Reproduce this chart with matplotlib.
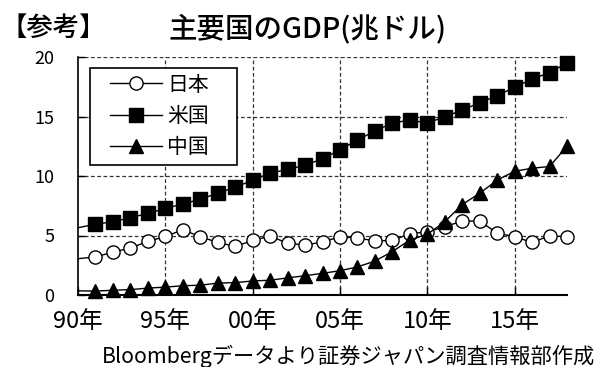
import matplotlib
matplotlib.use("Agg")
import matplotlib.pyplot as plt
from matplotlib.patches import Rectangle
import numpy as np

plt.rcParams['font.family'] = ['Noto Sans CJK JP', 'DejaVu Sans']

# category index 0..28 (label every 5)
tick_labels = ["90年", "95年", "00年", "05年", "10年", "15年"]
japan = [3.05, 3.2, 3.6, 3.95, 4.5, 4.92, 5.48, 4.9, 4.42, 4.08, 4.58, 4.95, 4.35, 4.2, 4.45,
         4.9, 4.78, 4.55, 4.58, 5.15, 5.3, 5.75, 6.2, 6.22, 5.2, 4.9, 4.42, 4.97, 4.9]
usa = [5.65, 5.95, 6.15, 6.5, 6.85, 7.28, 7.64, 8.05, 8.55, 9.05, 9.65, 10.25, 10.55, 10.9, 11.45,
       12.2, 13.02, 13.78, 14.45, 14.7, 14.45, 14.97, 15.55, 16.15, 16.75, 17.45, 18.15, 18.68, 19.5]
china = [0.35, 0.33, 0.4, 0.45, 0.58, 0.66, 0.78, 0.82, 1.0, 1.04, 1.18, 1.24, 1.44, 1.62, 1.82,
         2.04, 2.36, 2.85, 3.65, 4.62, 5.1, 6.15, 7.6, 8.55, 9.65, 10.4, 10.65, 10.8, 12.5]
series_names = ["日本", "米国", "中国"]

W, H = 594, 367
fig = plt.figure(figsize=(W / 100, H / 100), dpi=100)
ax = fig.add_axes([78 / W, (H - 295) / H, (567 - 78) / W, (295 - 57) / H])

x = np.arange(len(usa))
me = slice(1, None)
ax.plot(x, japan, color='black', lw=1, marker='o', ms=9.5, mfc='white', mec='black', mew=1,
        markevery=me, clip_on=False, zorder=5, label=series_names[0])
ax.plot(x, usa, color='black', lw=1, marker='s', ms=9.5, mfc='black', mec='black',
        markevery=me, clip_on=False, zorder=5, label=series_names[1])
ax.plot(x, china, color='black', lw=1, marker='^', ms=10.5, mfc='black', mec='black',
        markevery=me, clip_on=False, zorder=5, label=series_names[2])

ax.set_xlim(0, 28)
ax.set_ylim(0, 20)
ax.set_yticks([0, 5, 10, 15, 20])
ax.set_xticks(np.arange(0, 26, 5))
ax.set_xticklabels(tick_labels, fontsize=17)
ax.tick_params(axis='y', labelsize=13, direction='in', length=5, pad=17, width=1)
ax.tick_params(axis='x', direction='in', length=6, pad=11, width=1)

grid_style = dict(color='#333333', lw=0.9, ls=(0, (3, 2)))
for yv in [5, 10, 15, 20]:
    ax.axhline(yv, zorder=1, **grid_style)
for xv in [5, 10, 15, 20, 25]:
    ax.axvline(xv, zorder=1, **grid_style)

for s in ['top', 'right']:
    ax.spines[s].set_visible(False)
ax.spines['left'].set_linewidth(1.2)
ax.spines['bottom'].set_linewidth(1.5)

# legend box drawn as a patch, entries placed inside
ax.add_patch(Rectangle((12 / 489, (295 - 165) / 238), 147 / 489, 97 / 238,
                       transform=ax.transAxes, facecolor='white', edgecolor='black',
                       lw=1.2, zorder=8, clip_on=False))
leg = ax.legend(loc='center left', bbox_to_anchor=((110 - 78) / 489, (295 - 116) / 238),
                fontsize=15, frameon=False, handlelength=2.5, borderpad=0,
                labelspacing=0.45, handletextpad=0.25, borderaxespad=0)
leg.set_zorder(10)

fig.text(0 / W, (H - 28) / H, "【参考】", fontsize=19, va='center', ha='left', fontweight='medium')
fig.text(168 / W, (H - 28) / H, "主要国のGDP(兆ドル)", fontsize=20.5, va='center', ha='left',
         fontweight='medium')
fig.text(102 / W, (H - 356) / H, "Bloombergデータより証券ジャパン調査情報部作成", fontsize=15.3,
         va='center', ha='left')

fig.savefig("out.png", dpi=100)
